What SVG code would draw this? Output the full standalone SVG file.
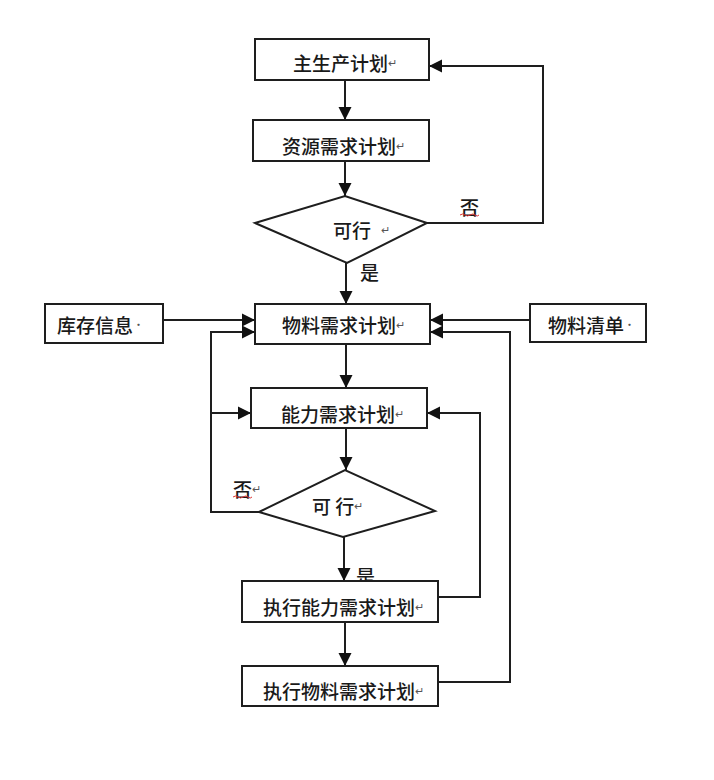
<svg xmlns="http://www.w3.org/2000/svg" width="714" height="780" viewBox="0 0 714 780">
<defs>
<marker id="ah" markerWidth="14" markerHeight="14" refX="13" refY="7" orient="auto" markerUnits="userSpaceOnUse">
<path d="M0,0.5 L13,7 L0,13.5 Z" fill="#111"/>
</marker>
<style>
.box{fill:#fff;stroke:#1e1e1e;stroke-width:2}
.t{font-family:"Noto Sans CJK SC","Noto Sans",sans-serif;font-size:19px;font-weight:500;fill:#1a1a1a;dominant-baseline:central}
.rm{font-size:11px;font-weight:400;fill:#555}
.c{fill:none;stroke:#1e1e1e;stroke-width:2}
.arr{marker-end:url(#ah)}
</style>
</defs>
<rect width="714" height="780" fill="#fff"/>
<g id="connectors">
<line class="c arr" x1="345" y1="80" x2="345" y2="120"/>
<line class="c arr" x1="345" y1="161" x2="345" y2="196"/>
<polyline class="c arr" points="427,223 543,223 543,66 429,66"/>
<line class="c arr" x1="346" y1="263" x2="346" y2="304"/>
<line class="c arr" x1="163" y1="320" x2="255" y2="320"/>
<line class="c arr" x1="530" y1="320" x2="430" y2="320"/>
<polyline class="c arr" points="259,512 211,512 211,332 255,332"/>
<line class="c arr" x1="211" y1="413" x2="251" y2="413"/>
<polyline class="c arr" points="438,597 480,597 480,413 427,413"/>
<polyline class="c arr" points="438,682 510,682 510,332 430,332"/>
<line class="c arr" x1="346" y1="344" x2="346" y2="388"/>
<line class="c arr" x1="346" y1="428" x2="346" y2="470"/>
<line class="c arr" x1="344" y1="537" x2="344" y2="581"/>
<line class="c arr" x1="345" y1="622" x2="345" y2="666"/>
</g>
<g id="n1"><rect class="box" x="255" y="39" width="174" height="41"/><text class="t" x="293" y="62">主生产计划<tspan class="rm">↵</tspan></text></g>
<g id="n2"><rect class="box" x="253" y="120" width="176" height="41"/><text class="t" x="282" y="145">资源需求计划<tspan class="rm">↵</tspan></text></g>
<g id="d1"><polygon class="box" points="255,223 345,196 427,223 347,263"/><text class="t" x="333" y="229">可行 <tspan class="rm" dx="6">↵</tspan></text></g>
<g id="l1"><text class="t" x="460" y="206">否</text><path d="M460,215 q2.5,-2 5,0 t5,0 t5,0 t4,0" fill="none" stroke="#d33" stroke-width="1"/></g>
<g id="l2"><text class="t" x="360" y="271">是</text></g>
<g id="n3"><rect class="box" x="45" y="304" width="118" height="39"/><text class="t" x="57" y="324">库存信息<tspan class="rm">·</tspan></text></g>
<g id="n4"><rect class="box" x="255" y="304" width="175" height="40"/><text class="t" x="282" y="324">物料需求计划<tspan class="rm">↵</tspan></text></g>
<g id="n5"><rect class="box" x="530" y="304" width="116" height="38"/><text class="t" x="548" y="324">物料清单<tspan class="rm">·</tspan></text></g>
<g id="n6"><rect class="box" x="251" y="388" width="176" height="40"/><text class="t" x="281" y="413">能力需求计划<tspan class="rm">↵</tspan></text></g>
<g id="d2"><polygon class="box" points="259,512 345,470 435,511 343,537"/><text class="t" x="312" y="505">可 行<tspan class="rm">↵</tspan></text></g>
<g id="l3"><text class="t" x="233" y="488">否<tspan class="rm">↵</tspan></text><path d="M233,497 q2.5,-2 5,0 t5,0 t5,0 t4,0" fill="none" stroke="#d33" stroke-width="1"/></g>
<g id="l4"><text class="t" x="356" y="575">是</text></g>
<g id="n7"><rect class="box" x="242" y="581" width="196" height="41"/><text class="t" x="263" y="606">执行能力需求计划<tspan class="rm">↵</tspan></text></g>
<g id="n8"><rect class="box" x="242" y="666" width="196" height="40"/><text class="t" x="263" y="690">执行物料需求计划<tspan class="rm">↵</tspan></text></g>
</svg>
